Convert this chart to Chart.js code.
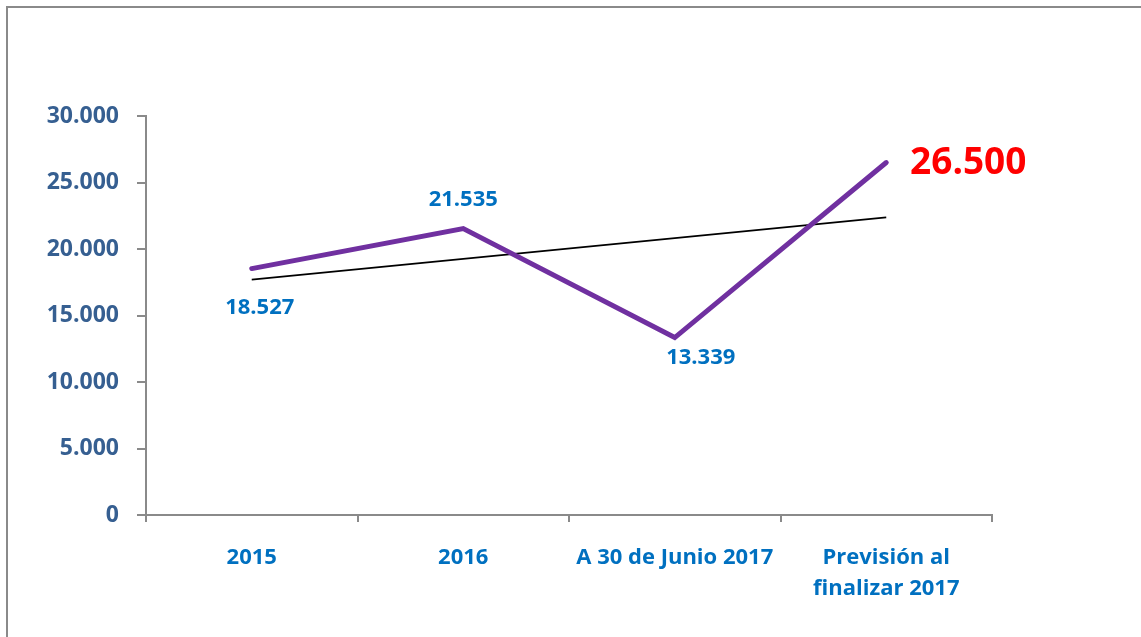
<!DOCTYPE html>
<html>
<head>
<meta charset="utf-8">
<script src="https://cdn.jsdelivr.net/npm/chart.js@4"></script>
<style>
  html, body { margin: 0; padding: 0; background: #fff; overflow: hidden; }
  #frame { position: absolute; left: 6px; top: 6px; width: 1300px; height: 800px;
           border-left: 2px solid #8a8a8a; border-top: 2px solid #8a8a8a; }
  #wrap { position: absolute; left: 0; top: 0; width: 1141px; height: 637px; }
</style>
</head>
<body>
<div id="frame"></div>
<div id="wrap"><canvas id="c" width="1141" height="637"></canvas></div>
<script>
const categories = ["2015", "2016", "A 30 de Junio 2017", ["Previsión al", "finalizar 2017"]];
const values = [18527, 21535, 13339, 26500];
const trendValues = [17700, null, null, 22380];
const valueLabels = ["18.527", "21.535", "13.339", "26.500"];

const FONT = "'Open Sans', 'Liberation Sans', sans-serif";

function fmt(v) {
  return String(v).replace(/\B(?=(\d{3})+(?!\d))/g, ".");
}

const labelPlugin = {
  id: 'valueLabels',
  afterDatasetsDraw(chart) {
    const meta = chart.getDatasetMeta(0);
    const ctx = chart.ctx;
    const offsets = [[8, 39], [0, -29], [26, 20], [82, 1]];
    ctx.save();
    ctx.textAlign = 'center';
    ctx.textBaseline = 'middle';
    meta.data.forEach((pt, i) => {
      const last = i === meta.data.length - 1;
      ctx.font = last ? "bold 37px " + FONT : "bold 22px " + FONT;
      ctx.fillStyle = last ? "#FF0000" : "#0070C0";
      ctx.fillText(valueLabels[i], pt.x + offsets[i][0], pt.y + offsets[i][1]);
    });
    ctx.restore();
  }
};

new Chart(document.getElementById('c'), {
  type: 'line',
  data: {
    labels: categories,
    datasets: [
      {
        data: values,
        borderColor: '#7030A0',
        borderWidth: 5,
        pointRadius: 0,
        tension: 0,
        borderCapStyle: 'round',
        borderJoinStyle: 'miter',
        order: 0
      },
      {
        data: trendValues,
        borderColor: '#000000',
        borderWidth: 1.6,
        pointRadius: 0,
        spanGaps: true,
        tension: 0,
        order: 1
      }
    ]
  },
  options: {
    responsive: false,
    animation: false,
    layout: { padding: { top: 116, right: 149, left: 0, bottom: 0 } },
    plugins: { legend: { display: false }, tooltip: { enabled: false } },
    scales: {
      x: {
        type: 'category',
        offset: true,
        grid: { offset: true, drawOnChartArea: false, tickLength: 7, color: '#8a8a8a', lineWidth: 2 },
        border: { color: '#8a8a8a', width: 2 },
        ticks: {
          color: '#0070C0',
          font: { family: FONT, size: 22, weight: 'bold', lineHeight: 1.42 },
          padding: 20,
          maxRotation: 0,
          autoSkip: false
        },
        afterFit(scale) { scale.height = 122; }
      },
      y: {
        min: 0,
        max: 30000,
        grid: { drawOnChartArea: false, tickLength: 9, color: '#8a8a8a', lineWidth: 2 },
        border: { color: '#8a8a8a', width: 2 },
        ticks: {
          stepSize: 5000,
          color: '#365F91',
          font: { family: FONT, size: 23, weight: 'bold' },
          padding: 18,
          callback: (v) => fmt(v)
        },
        afterFit(scale) { scale.width = 146; }
      }
    }
  },
  plugins: [labelPlugin]
});
</script>
</body>
</html>
